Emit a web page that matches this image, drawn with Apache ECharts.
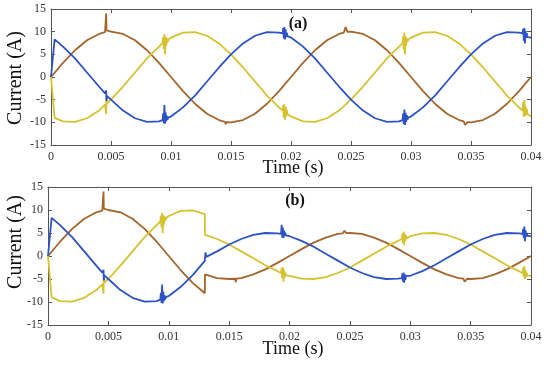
<!DOCTYPE html>
<html>
<head>
<meta charset="utf-8">
<script src="https://cdn.jsdelivr.net/npm/echarts@6/dist/echarts.min.js"></script>
<style>html,body{margin:0;padding:0;background:#fff;}#c{width:550px;height:366px;}</style>
</head>
<body>
<div id="c"></div>
<script>
// ---- data (time in s, current in A) ----
const time = [0,0.001,0.002,0.003,0.004,0.005,0.006,0.007,0.008,0.009,0.010,0.011,0.012,0.013,0.014,0.015,0.016,0.017,0.018,0.019,0.020,
  0.021,0.022,0.023,0.024,0.025,0.026,0.027,0.028,0.029,0.030,0.031,0.032,0.033,0.034,0.035,0.036,0.037,0.038,0.039,0.040];
const xTicks = [0,0.005,0.01,0.015,0.02,0.025,0.03,0.035,0.04];
const yTicks = [-15,-10,-5,0,5,10,15];

// (a)
const blueA = [0,6.7,4.1,1.0,-2.1,-5,-7.4,-9.1,-9.9,-9.8,-8.7,-6.7,-4.1,-1.0,2.1,5,7.4,9.1,9.9,9.8,
  8.7,6.7,4.1,1.0,-2.1,-5,-7.4,-9.1,-9.9,-9.8,-8.7,-6.7,-4.1,-1.0,2.1,5,7.4,9.1,9.9,9.8,8.7];
const yellowA = [0,-9.8,-9.9,-9.1,-7.4,-5,-2.1,1.0,4.1,6.7,8.7,9.8,9.9,9.1,7.4,5,2.1,-1.0,-4.1,-6.7,
  -8.7,-9.8,-9.9,-9.1,-7.4,-5,-2.1,1.0,4.1,6.7,8.7,9.8,9.9,9.1,7.4,5,2.1,-1.0,-4.1,-6.7,-8.7];
const brownA = [0,3.1,5.9,8.1,9.5,10,9.5,8.1,5.9,3.1,0,-3.1,-5.9,-8.1,-9.5,-10,-9.5,-8.1,-5.9,-3.1,
  0,3.1,5.9,8.1,9.5,10,9.5,8.1,5.9,3.1,0,-3.1,-5.9,-8.1,-9.5,-10,-9.5,-8.1,-5.9,-3.1,0];

const blueAExtra = [[0.0003,8.3],
  [0.0045,-3.6],[0.00458,-3.8],[0.0046,-3.0],[0.00462,-5.3],[0.00466,-4.2],
  [0.0093,-9.5],[0.00935,-8.0],[0.0094,-10.2],[0.00945,-6.2],[0.0095,-10.3],[0.00955,-7.8],[0.0096,-9.8],[0.00965,-8.5],[0.0097,-9.4],[0.0098,-8.9],
  [0.0193,9.6],[0.01935,10.8],[0.0194,8.5],[0.01945,11.0],[0.0195,8.3],[0.01955,10.5],[0.0196,8.8],[0.01965,9.8],[0.0197,9.0],[0.0198,9.0],
  [0.0293,-9.5],[0.02935,-8.0],[0.0294,-10.4],[0.02945,-7.2],[0.0295,-10.6],[0.02955,-7.9],[0.0296,-9.9],[0.02965,-8.4],[0.0297,-9.4],[0.0298,-8.9],
  [0.0393,9.6],[0.03935,10.6],[0.0394,8.0],[0.03945,10.8],[0.0395,7.4],[0.03955,10.2],[0.0396,8.6],[0.03965,9.7],[0.0397,8.8],[0.0398,9.0]];
const yellowAExtra = [[0.0003,-9.0],
  [0.0045,-6.1],[0.00458,-6.0],[0.0046,-8.2],[0.00462,-4.3],[0.00466,-5.8],
  [0.0093,7.5],[0.00935,8.8],[0.0094,6.2],[0.00945,9.4],[0.0095,5.0],[0.00955,8.9],[0.0096,6.8],[0.00965,8.6],[0.0097,7.6],[0.0098,8.3],
  [0.0193,-7.4],[0.01935,-6.2],[0.0194,-9.0],[0.01945,-6.0],[0.0195,-9.4],[0.01955,-6.6],[0.0196,-8.7],[0.01965,-7.2],[0.0197,-8.2],[0.0198,-8.3],
  [0.0293,7.4],[0.02935,9.0],[0.0294,6.0],[0.02945,9.8],[0.0295,5.0],[0.02955,9.0],[0.0296,6.9],[0.02965,8.6],[0.0297,7.8],[0.0298,8.3],
  [0.0393,-7.4],[0.03935,-5.6],[0.0394,-8.8],[0.03945,-5.0],[0.0395,-8.6],[0.03955,-6.4],[0.0396,-8.4],[0.03965,-7.0],[0.0397,-8.2],[0.0398,-8.3]];
const brownAExtra = [[0.0045,9.88],[0.00458,9.9],[0.0046,14.0],[0.00462,10.3],[0.00467,10.0],
  [0.0145,-9.9],[0.01455,-10.4],[0.0146,-9.95],
  [0.0244,9.8],[0.02455,11.0],[0.0247,9.95],
  [0.0344,-9.8],[0.0345,-10.6],[0.0347,-9.95]];

// (b)
const blueB = [0,6.7,4.1,1.0,-2.1,-5,-7.4,-9.1,-9.9,-9.8,-8.7,-6.7,-4.1,-0.5,1.0,2.5,3.7,4.6,5.0,4.9,
  4.3,3.3,2.0,0.5,-1.0,-2.5,-3.7,-4.6,-5.0,-4.9,-4.3,-3.3,-2.0,-0.5,1.0,2.5,3.7,4.6,5.0,4.9,4.3];
const yellowB = [0,-9.8,-9.9,-9.1,-7.4,-5,-2.1,1.0,4.1,6.7,8.7,9.8,9.9,4.6,3.7,2.5,1.0,-0.5,-2.0,-3.3,
  -4.3,-4.9,-5.0,-4.6,-3.7,-2.5,-1.0,0.5,2.0,3.3,4.3,4.9,5.0,4.6,3.7,2.5,1.0,-0.5,-2.0,-3.3,-4.3];
const brownB = [0,3.1,5.9,8.1,9.5,10,9.5,8.1,5.9,3.1,0,-3.1,-5.9,-4.0,-4.8,-5.0,-4.8,-4.0,-2.9,-1.5,
  0,1.5,2.9,4.0,4.8,5.0,4.8,4.0,2.9,1.5,0,-1.5,-2.9,-4.0,-4.8,-5.0,-4.8,-4.0,-2.9,-1.5,0];

const blueBExtra = [[0.0003,8.3],
  [0.0045,-3.6],[0.00458,-3.8],[0.0046,-3.0],[0.00462,-5.3],[0.00466,-4.2],
  [0.0093,-9.5],[0.00935,-8.0],[0.0094,-10.2],[0.00945,-6.2],[0.0095,-10.3],[0.00955,-7.8],[0.0096,-9.8],[0.00965,-8.5],[0.0097,-9.4],[0.0098,-8.9],
  [0.01299,-1.05],[0.01305,0.8],[0.0131,-0.2],
  [0.0193,4.8],[0.01935,6.8],[0.0194,4.0],[0.01945,6.2],[0.0195,3.9],[0.01955,5.6],[0.0196,4.3],[0.01965,5.1],[0.0197,4.5],[0.0198,4.5],
  [0.0293,-4.8],[0.02935,-3.8],[0.0294,-5.6],[0.02945,-3.6],[0.0295,-5.8],[0.02955,-4.0],[0.0296,-5.2],[0.02965,-4.3],[0.0297,-4.7],[0.0298,-4.5],
  [0.0393,4.8],[0.03935,5.9],[0.0394,3.9],[0.03945,6.4],[0.0395,3.2],[0.03955,5.6],[0.0396,4.2],[0.03965,5.0],[0.0397,4.4],[0.0398,4.5]];
const yellowBExtra = [[0.0003,-9.0],
  [0.0045,-6.1],[0.00458,-6.0],[0.0046,-8.2],[0.00462,-4.3],[0.00466,-5.8],
  [0.0093,7.5],[0.00935,8.8],[0.0094,6.2],[0.00945,9.4],[0.0095,5.0],[0.00955,8.9],[0.0096,6.8],[0.00965,8.6],[0.0097,7.6],[0.0098,8.3],
  [0.01299,9.1],
  [0.0193,-3.7],[0.01935,-2.6],[0.0194,-4.8],[0.01945,-2.4],[0.0195,-5.6],[0.01955,-3.0],[0.0196,-4.7],[0.01965,-3.6],[0.0197,-4.2],[0.0198,-4.2],
  [0.0293,3.7],[0.02935,4.8],[0.0294,2.8],[0.02945,5.3],[0.0295,2.4],[0.02955,4.9],[0.0296,3.3],[0.02965,4.4],[0.0297,3.8],[0.0298,4.2],
  [0.0393,-3.7],[0.03935,-2.6],[0.0394,-4.6],[0.03945,-2.2],[0.0395,-5.0],[0.03955,-3.1],[0.0396,-4.6],[0.03965,-3.7],[0.0397,-4.2],[0.0398,-4.2]];
const brownBExtra = [[0.0045,9.88],[0.00458,9.9],[0.0046,14.0],[0.00462,10.3],[0.00467,10.0],
  [0.01299,-8.1],
  [0.0155,-4.95],[0.01555,-5.7],[0.0156,-4.9],
  [0.0244,4.9],[0.02455,5.5],[0.0247,4.97],
  [0.0344,-4.9],[0.0345,-5.6],[0.0347,-4.95]];

// ---- build ----
function build(base, extra) {
  const pts = time.map((t, i) => [t, base[i]]).concat(extra);
  pts.sort((a, b) => a[0] - b[0]);
  return pts;
}
const BLUE = '#2d52c4', BROWN = '#a3652b', YELLOW = '#d6c22e';
const serif = '"Liberation Serif", "DejaVu Serif", serif';
const axisColor = '#555';

function xAxes(gi) {
  return [{
    type: 'value', gridIndex: gi, position: 'bottom', min: 0, max: 0.04, interval: 0.005,
    axisLine: { show: true, onZero: false, lineStyle: { color: axisColor, width: 1 } },
    axisTick: { show: true, inside: true, length: 4, lineStyle: { color: axisColor } },
    splitLine: { show: false },
    axisLabel: { fontFamily: serif, fontSize: 12, color: '#333', margin: 6,
      formatter: v => String(+v.toFixed(3)) }
  }, {
    type: 'value', gridIndex: gi, position: 'top', min: 0, max: 0.04, interval: 0.005,
    axisLine: { show: true, onZero: false, lineStyle: { color: axisColor, width: 1 } },
    axisTick: { show: true, inside: true, length: 4, lineStyle: { color: axisColor } },
    splitLine: { show: false }, axisLabel: { show: false }
  }];
}
function yAxes(gi) {
  return [{
    type: 'value', gridIndex: gi, position: 'left', min: -15, max: 15, interval: 5,
    axisLine: { show: true, onZero: false, lineStyle: { color: axisColor, width: 1 } },
    axisTick: { show: true, inside: true, length: 4, lineStyle: { color: axisColor } },
    splitLine: { show: false },
    axisLabel: { fontFamily: serif, fontSize: 12, color: '#333', margin: 5 }
  }, {
    type: 'value', gridIndex: gi, position: 'right', min: -15, max: 15, interval: 5,
    axisLine: { show: true, onZero: false, lineStyle: { color: axisColor, width: 1 } },
    axisTick: { show: true, inside: true, length: 4, lineStyle: { color: axisColor } },
    splitLine: { show: false }, axisLabel: { show: false }
  }];
}
function line(name, data, color, xi, yi) {
  return { name, type: 'line', data, xAxisIndex: xi, yAxisIndex: yi, showSymbol: false, symbol: 'none',
    animation: false, lineStyle: { color, width: 1.8 }, itemStyle: { color } };
}

const chart = echarts.init(document.getElementById('c'), null, { renderer: 'canvas' });
chart.setOption({
  backgroundColor: '#fff',
  animation: false,
  grid: [
    { left: 51, top: 9, width: 480, height: 136 },
    { left: 48, top: 187, width: 483, height: 138 }
  ],
  xAxis: [...xAxes(0), ...xAxes(1)],
  yAxis: [...yAxes(0), ...yAxes(1)],
  series: [
    line('ia', build(brownA, brownAExtra), BROWN, 0, 0),
    line('ib', build(yellowA, yellowAExtra), YELLOW, 0, 0),
    line('ic', build(blueA, blueAExtra), BLUE, 0, 0),
    line('ia', build(brownB, brownBExtra), BROWN, 2, 2),
    line('ib', build(yellowB, yellowBExtra), YELLOW, 2, 2),
    line('ic', build(blueB, blueBExtra), BLUE, 2, 2)
  ],
  graphic: [
    { type: 'text', x: 16, y: 78, rotation: Math.PI / 2,
      style: { text: 'Current (A)', font: '20px ' + serif, fill: '#111', align: 'center', verticalAlign: 'middle' } },
    { type: 'text', x: 16, y: 242, rotation: Math.PI / 2,
      style: { text: 'Current (A)', font: '20px ' + serif, fill: '#111', align: 'center', verticalAlign: 'middle' } },
    { type: 'text', x: 293, y: 168,
      style: { text: 'Time (s)', font: '18px ' + serif, fill: '#111', align: 'center', verticalAlign: 'middle' } },
    { type: 'text', x: 293, y: 349,
      style: { text: 'Time (s)', font: '18px ' + serif, fill: '#111', align: 'center', verticalAlign: 'middle' } },
    { type: 'text', x: 298, y: 24,
      style: { text: '(a)', font: 'bold 16px ' + serif, fill: '#111', align: 'center', verticalAlign: 'middle' } },
    { type: 'text', x: 295, y: 201,
      style: { text: '(b)', font: 'bold 16px ' + serif, fill: '#111', align: 'center', verticalAlign: 'middle' } }
  ]
});
</script>
</body>
</html>
